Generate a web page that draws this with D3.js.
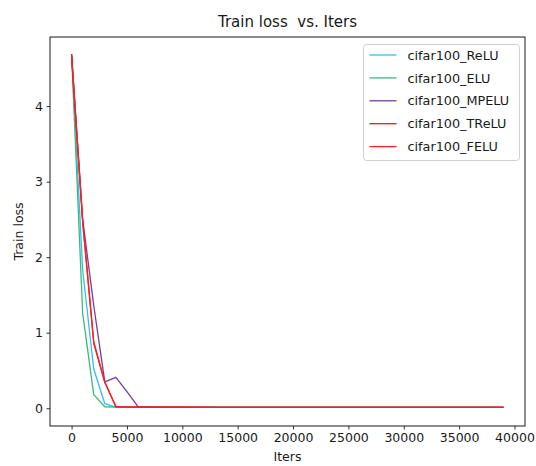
<!DOCTYPE html>
<html>
<head>
<meta charset="utf-8">
<script src="https://cdn.jsdelivr.net/npm/d3@7"></script>
<style>
  body { margin: 0; background: #fff; }
  text { font-family: "DejaVu Sans", sans-serif; fill: #1a1a1a; }
</style>
</head>
<body>
<div id="chart"></div>
<script>
const iters = [0, 1000, 2000, 3000, 4000, 5000, 6000, 7000, 8000, 9000,
  10000, 11000, 12000, 13000, 14000, 15000, 16000, 17000, 18000, 19000,
  20000, 21000, 22000, 23000, 24000, 25000, 26000, 27000, 28000, 29000,
  30000, 31000, 32000, 33000, 34000, 35000, 36000, 37000, 38000, 39000];

const relu = [4.69, 1.83, 0.52, 0.06, 0.016, 0.014, 0.013, 0.013, 0.012, 0.012,
  0.012, 0.012, 0.011, 0.012, 0.011, 0.011, 0.012, 0.011, 0.011, 0.011,
  0.011, 0.011, 0.011, 0.011, 0.011, 0.011, 0.011, 0.011, 0.011, 0.011,
  0.011, 0.011, 0.011, 0.011, 0.011, 0.011, 0.011, 0.011, 0.011, 0.011];
const elu = [4.69, 1.26, 0.18, 0.02, 0.015, 0.014, 0.013, 0.013, 0.012, 0.012,
  0.012, 0.012, 0.012, 0.011, 0.011, 0.011, 0.011, 0.011, 0.011, 0.011,
  0.011, 0.011, 0.011, 0.011, 0.011, 0.011, 0.011, 0.011, 0.011, 0.011,
  0.011, 0.011, 0.011, 0.011, 0.011, 0.011, 0.011, 0.011, 0.011, 0.011];
const mpelu = [4.69, 2.50, 1.36, 0.35, 0.41, 0.22, 0.02, 0.016, 0.014, 0.013,
  0.013, 0.012, 0.012, 0.012, 0.012, 0.011, 0.011, 0.011, 0.011, 0.011,
  0.011, 0.011, 0.011, 0.011, 0.011, 0.011, 0.011, 0.011, 0.011, 0.011,
  0.011, 0.011, 0.011, 0.011, 0.011, 0.011, 0.011, 0.011, 0.011, 0.011];
const trelu = [4.66, 2.46, 0.86, 0.34, 0.02, 0.016, 0.015, 0.014, 0.014, 0.013,
  0.013, 0.013, 0.013, 0.012, 0.012, 0.012, 0.012, 0.012, 0.012, 0.012,
  0.012, 0.012, 0.012, 0.012, 0.012, 0.012, 0.012, 0.012, 0.012, 0.012,
  0.012, 0.012, 0.012, 0.012, 0.012, 0.012, 0.012, 0.012, 0.012, 0.012];
const felu = [4.67, 2.49, 0.88, 0.35, 0.02, 0.017, 0.016, 0.015, 0.015, 0.014,
  0.014, 0.014, 0.013, 0.013, 0.013, 0.013, 0.013, 0.013, 0.013, 0.013,
  0.013, 0.013, 0.013, 0.013, 0.013, 0.013, 0.013, 0.013, 0.013, 0.013,
  0.013, 0.013, 0.013, 0.013, 0.013, 0.013, 0.013, 0.013, 0.013, 0.013];

const seriesNames = ["cifar100_ReLU", "cifar100_ELU", "cifar100_MPELU", "cifar100_TReLU", "cifar100_FELU"];
const seriesValues = [relu, elu, mpelu, trelu, felu];
const colors = ["#33bdf2", "#3cb879", "#7b3a9c", "#c62a2f", "#ff1f1f"];

const xTicks = [0, 5000, 10000, 15000, 20000, 25000, 30000, 35000, 40000];
const yTicks = [0, 1, 2, 3, 4];

let width = 536, height = 466;
let margin = {top: 37, right: 11, bottom: 40, left: 50};
let w = width - margin.left - margin.right;
let h = height - margin.top - margin.bottom;

const svg = d3.select("#chart")
  .append("svg")
    .attr("width", width)
    .attr("height", height);

const g = svg.append("g")
    .attr("transform", "translate(" + margin.left + "," + margin.top + ")");

let x = d3.scaleLinear()
  .domain([-1950, 40950])
  .range([0, w]);
let y = d3.scaleLinear()
  .domain([-0.235, 4.915])
  .range([h, 0]);

// lines
const line = d3.line()
  .x((d, i) => x(iters[i]))
  .y(d => y(d));

g.append("g")
  .selectAll("path")
  .data(seriesValues)
  .enter()
  .append("path")
    .attr("d", d => line(d))
    .attr("fill", "none")
    .attr("stroke", (d, i) => colors[i])
    .attr("stroke-width", 1.3)
    .attr("stroke-linejoin", "round");

// axes
const xAxis = g.append("g")
  .attr("transform", "translate(0," + h + ")")
  .call(d3.axisBottom(x).tickValues(xTicks).tickSize(3.5).tickPadding(3.5).tickSizeOuter(0).tickFormat(d3.format("d")));
const yAxis = g.append("g")
  .call(d3.axisLeft(y).tickValues(yTicks).tickSize(3.5).tickPadding(3.5).tickSizeOuter(0).tickFormat(d3.format("d")));

[xAxis, yAxis].forEach(a => {
  a.select(".domain").remove();
  a.selectAll("line").attr("stroke", "#000").attr("stroke-width", 0.8);
  a.selectAll("text").style("font-size", "12.5px").attr("fill", "#1a1a1a");
});

// frame
g.append("rect")
  .attr("x", 0).attr("y", 0)
  .attr("width", w).attr("height", h)
  .attr("fill", "none")
  .attr("stroke", "#000")
  .attr("stroke-width", 0.9);

// title & labels
svg.append("text")
  .attr("x", margin.left + w / 2)
  .attr("y", 27)
  .attr("text-anchor", "middle")
  .style("font-size", "15px")
  .text("Train loss\u00a0 vs. Iters");

svg.append("text")
  .attr("x", margin.left + w / 2)
  .attr("y", 461)
  .attr("text-anchor", "middle")
  .style("font-size", "12.5px")
  .text("Iters");

svg.append("text")
  .attr("transform", "translate(22.5," + (margin.top + h / 2) + ") rotate(-90)")
  .attr("text-anchor", "middle")
  .style("font-size", "12.5px")
  .text("Train loss");

// legend
const legend = svg.append("g").attr("transform", "translate(363.5,44.5)");
legend.append("rect")
  .attr("width", 156)
  .attr("height", 116)
  .attr("rx", 3)
  .attr("fill", "#fff")
  .attr("fill-opacity", 0.8)
  .attr("stroke", "#d0d0d0")
  .attr("stroke-width", 1);

const items = legend.selectAll(".item")
  .data(seriesNames)
  .enter()
  .append("g")
    .attr("transform", (d, i) => "translate(0," + (10.5 + i * 22.9) + ")");
items.append("line")
  .attr("x1", 6).attr("x2", 33)
  .attr("stroke", (d, i) => colors[i])
  .attr("stroke-width", 1.3);
items.append("text")
  .attr("x", 44)
  .attr("y", 4.6)
  .style("font-size", "12.8px")
  .text(d => d);
</script>
</body>
</html>
